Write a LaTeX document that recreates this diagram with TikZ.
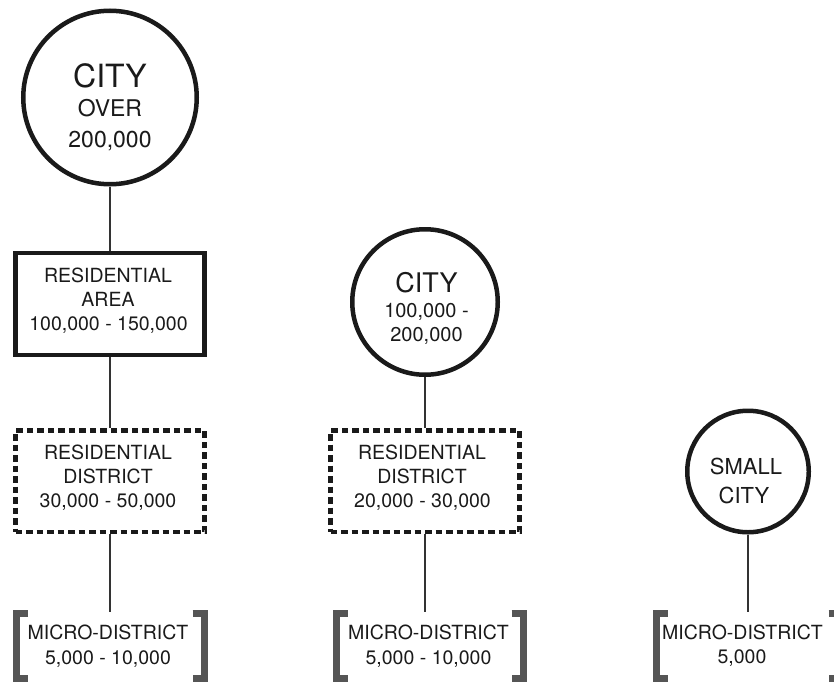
\documentclass[tikz,border=0pt]{standalone}
\usepackage{fontspec}
\setmainfont{TeX Gyre Heros}
\definecolor{ink}{HTML}{1A1A1A}
\definecolor{linec}{HTML}{333333}
\definecolor{brk}{HTML}{555555}
\newcommand\fsz[1]{\fontsize{#1}{#1}\selectfont}
\begin{document}
\begin{tikzpicture}[x=1pt,y=-1pt,
  ring/.style={circle, draw=ink, line width=4.5pt, inner sep=0pt},
  solidbox/.style={rectangle, draw=ink, line width=4.5pt, inner sep=0pt},
  dashbox/.style={rectangle, draw=ink, line width=4.5pt, inner sep=0pt, dash pattern=on 6.5pt off 4pt},
  conn/.style={draw=linec, line width=1.4pt},
  brk/.style={draw=brk, line width=7pt, line join=miter},
  txt/.style={anchor=base, inner sep=0pt, text=ink, font=\fsz{19.5}},
]
\useasboundingbox (0,0) rectangle (834,682);
\fill[white] (0,0) rectangle (834,682);

% ---------- column 1 ----------
\node[ring, minimum size=173.5pt] (c1) at (110,97.5) {};
\node[txt, font=\fsz{32}] (c1a) at (110,88) {CITY};
\node[txt, font=\fsz{23}] (c1b) at (110,117) {OVER};
\node[txt, font=\fsz{23}] (c1c) at (110,147) {200,000};

\node[solidbox, minimum width=189pt, minimum height=102pt] (r1) at (110,304) {};
\node[txt] (r1a) at (108,282.5) {RESIDENTIAL};
\node[txt] (r1b) at (108,306.5) {AREA};
\node[txt] (r1c) at (108.5,330.5) {100,000 - 150,000};

\node[dashbox, minimum width=189pt, minimum height=101.5pt] (d1) at (110,481.25) {};
\node[txt] (d1a) at (108,459) {RESIDENTIAL};
\node[txt] (d1b) at (108,483) {DISTRICT};
\node[txt] (d1c) at (108,507) {30,000 - 50,000};

\coordinate (m1top) at (110,612);
\node[txt] (m1a) at (108,639) {MICRO-DISTRICT};
\node[txt] (m1b) at (108,664) {5,000 - 10,000};
\draw[brk] (28,613.5) -- (16.5,613.5) -- (16.5,678) -- (28,678);
\draw[brk] (192.5,613.5) -- (204,613.5) -- (204,678) -- (192.5,678);

\draw[conn] (c1.south) -- (r1.north);
\draw[conn] (r1.south) -- (d1.north);
\draw[conn] (d1.south) -- (m1top);

% ---------- column 2 ----------
\node[ring, minimum size=145.5pt] (c2) at (425,302) {};
\node[txt, font=\fsz{27}] (c2a) at (426.5,292) {CITY};
\node[txt, font=\fsz{20}] (c2b) at (426.5,317) {100,000 -};
\node[txt, font=\fsz{20}] (c2c) at (426.5,341) {200,000};

\node[dashbox, minimum width=189pt, minimum height=101.5pt] (d2) at (425,481.25) {};
\node[txt] (d2a) at (422,459) {RESIDENTIAL};
\node[txt] (d2b) at (422,483) {DISTRICT};
\node[txt] (d2c) at (422.5,507.5) {20,000 - 30,000};

\coordinate (m2top) at (425,612);
\node[txt] (m2a) at (428.5,639) {MICRO-DISTRICT};
\node[txt] (m2b) at (428.5,664) {5,000 - 10,000};
\draw[brk] (347.5,613.5) -- (336,613.5) -- (336,678) -- (347.5,678);
\draw[brk] (511.5,613.5) -- (523,613.5) -- (523,678) -- (511.5,678);

\draw[conn] (c2.south) -- (d2.north);
\draw[conn] (d2.south) -- (m2top);

% ---------- column 3 ----------
\node[ring, minimum size=121.5pt] (c3) at (748,471.5) {};
\node[txt, font=\fsz{22}] (c3a) at (746,474) {SMALL};
\node[txt, font=\fsz{22}] (c3b) at (744,503) {CITY};

\coordinate (m3top) at (748,612);
\node[txt] (m3a) at (742.5,639) {MICRO-DISTRICT};
\node[txt] (m3b) at (742,663.5) {5,000};
\draw[brk] (667.5,613.5) -- (656,613.5) -- (656,678) -- (667.5,678);
\draw[brk] (828.5,613.5) -- (840,613.5) -- (840,678) -- (828.5,678);

\draw[conn] (c3.south) -- (m3top);
\end{tikzpicture}
\end{document}
